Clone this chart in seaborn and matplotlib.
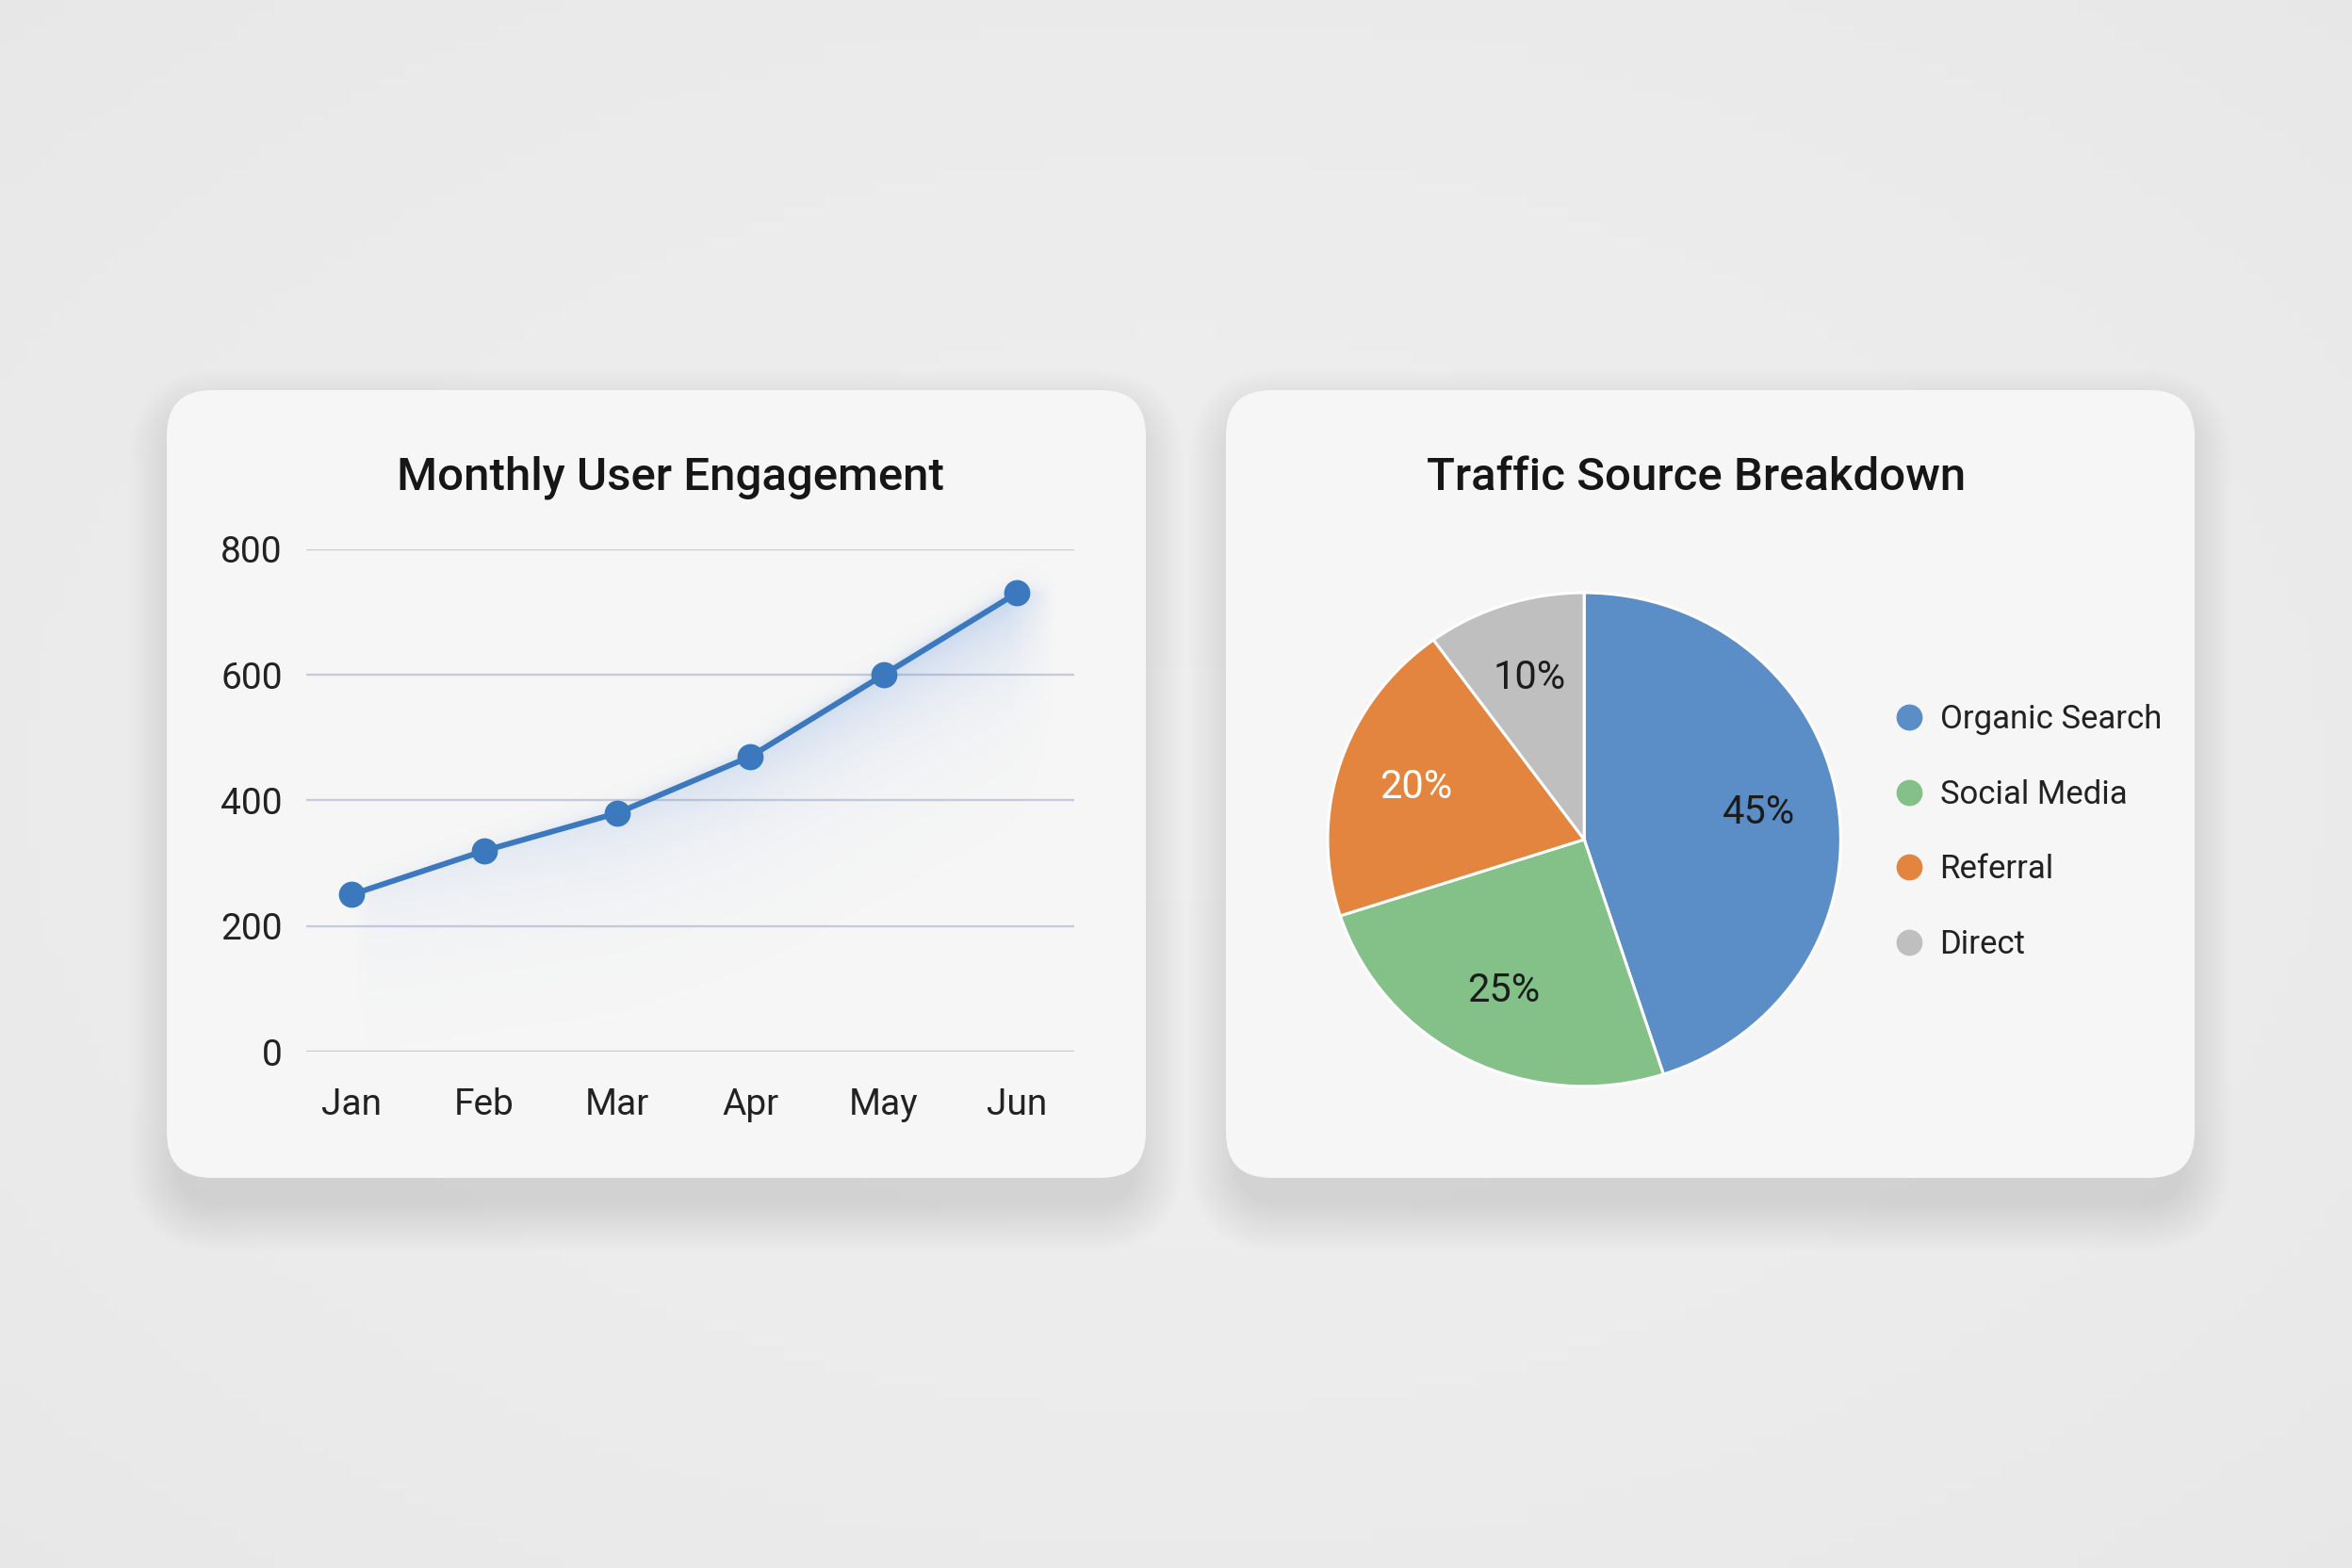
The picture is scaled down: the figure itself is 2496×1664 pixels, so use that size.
import numpy as np
import matplotlib
matplotlib.use("Agg")
import matplotlib.pyplot as plt
from matplotlib.patches import FancyBboxPatch
from matplotlib.lines import Line2D
import pandas as pd
import seaborn as sns

# line chart data
months = ["Jan", "Feb", "Mar", "Apr", "May", "Jun"]
users = [250, 320, 380, 470, 600, 730]
y_ticks = [0, 200, 400, 600, 800]

# pie chart data
sources = ["Organic Search", "Social Media", "Referral", "Direct"]
shares = [45, 25, 20, 10]
source_colors = ["#5b8dc6", "#84c189", "#e3853f", "#bfbfbf"]
pct_colors = ["#1c1c1c", "#1c1c1c", "white", "#1c1c1c"]

sns.set_theme(style="white")
plt.rcParams["font.family"] = ["Roboto", "DejaVu Sans"]

W, H = 2496, 1664
fig = plt.figure(figsize=(W / 100, H / 100), dpi=100)
fig.patch.set_facecolor("#e8e8e8")

# background + cards, drawn in pixel units so corners stay round
bg = fig.add_axes([0, 0, 1, 1], zorder=0)
bg.set_xlim(0, W)
bg.set_ylim(0, H)
bg.axis("off")
gy, gx = np.mgrid[-1:1:120j, -1:1:180j]
shade = 0.93 - 0.025 * (gx ** 2 + gy ** 2) / 2
bg.imshow(shade, extent=(0, W, 0, H), cmap="gray", vmin=0, vmax=1,
          aspect="auto", origin="lower", zorder=0)


def card(x0, x1, y0, y1):
    w, h = x1 - x0, y1 - y0
    for k in range(26):
        d = k * 2.0
        bg.add_patch(FancyBboxPatch(
            (x0 - d + 10, y0 - d - 28), w + 2 * d - 20, h + 2 * d,
            boxstyle=f"round,pad=0,rounding_size={48 + d}",
            fc="black", ec="none", alpha=0.0045, zorder=1))
    bg.add_patch(FancyBboxPatch(
        (x0, y0), w, h, boxstyle="round,pad=0,rounding_size=48",
        fc="#f6f6f6", ec="none", zorder=2))


card(177, 1216, 414, 1250)
card(1301, 2329, 414, 1250)

title_kw = dict(fontsize=35.5, weight="medium", color="#161616",
                ha="center", va="center")
fig.text(0.2851, 0.6955, "Monthly User Engagement", **title_kw)
fig.text(0.7213, 0.6955, "Traffic Source Breakdown", **title_kw)

# ---- line chart ----
df = pd.DataFrame({"month": months, "users": users})
ax = fig.add_axes([0.1301, 0.3292, 0.3265, 0.3206], zorder=3)
ax.set_facecolor("none")
x0, x1 = -0.34, 5.43
xs = np.linspace(x0, x1, 600)
ys = np.linspace(0, 800, 400)
line_y = np.interp(xs, np.arange(len(users)), users)
dist = line_y[None, :] - ys[:, None]
alpha = np.where(dist > 0, np.exp(-dist / 85.0), np.exp(dist / 12.0))
alpha *= np.clip(0.25 + 0.75 * xs / 5.0, 0, 1)[None, :]
edge = np.clip((5.3 - xs) / 0.35, 0, 1) * np.clip(xs / 0.15, 0, 1)
alpha *= edge[None, :]
rgba = np.zeros(alpha.shape + (4,))
rgba[..., 0], rgba[..., 1], rgba[..., 2] = 0.36, 0.56, 0.86
rgba[..., 3] = alpha * 0.30
ax.imshow(rgba, extent=(x0, x1, 0, 800), origin="lower", aspect="auto",
          zorder=1)

sns.lineplot(data=df, x="month", y="users", ax=ax, color="#3b78be",
             linewidth=4.3, marker="o", markersize=20, markeredgewidth=0,
             zorder=3, clip_on=False)
ax.set_xlim(x0, x1)
ax.set_ylim(0, 800)
ax.set_yticks(y_ticks)
ax.set_xlabel("")
ax.set_ylabel("")
ax.yaxis.grid(True, color="#c6cadb", linewidth=1.7)
ax.xaxis.grid(False)
ax.set_axisbelow(True)
for s in ax.spines.values():
    s.set_visible(False)
ax.tick_params(axis="both", length=0, labelsize=28, labelcolor="#222222")
ax.tick_params(axis="y", pad=18)
ax.tick_params(axis="x", pad=27)

# ---- pie chart ----
pax = fig.add_axes([0.5645, 0.3072, 0.2181, 0.3148], zorder=3)
wedges, texts, autotexts = pax.pie(
    shares, colors=source_colors, startangle=90, counterclock=False,
    autopct=lambda p: f"{p:.0f}%", pctdistance=0.69,
    wedgeprops=dict(edgecolor="white", linewidth=2.2),
    textprops=dict(fontsize=30))
for t, c in zip(autotexts, pct_colors):
    t.set_color(c)
pax.set_aspect("auto")
pax.set_xlim(-1, 1)
pax.set_ylim(-1, 1)

handles = [Line2D([], [], marker="o", ls="", markersize=20,
                  markerfacecolor=c, markeredgewidth=0) for c in source_colors]
pax.legend(handles, sources, loc="center left",
           bbox_to_anchor=(0.799, 0.4694), bbox_transform=fig.transFigure,
           frameon=False, fontsize=25, borderpad=0, handlelength=0.8,
           handletextpad=0.55, labelspacing=1.34, labelcolor="#222222")

fig.savefig("out.png", dpi=100, facecolor=fig.get_facecolor())
